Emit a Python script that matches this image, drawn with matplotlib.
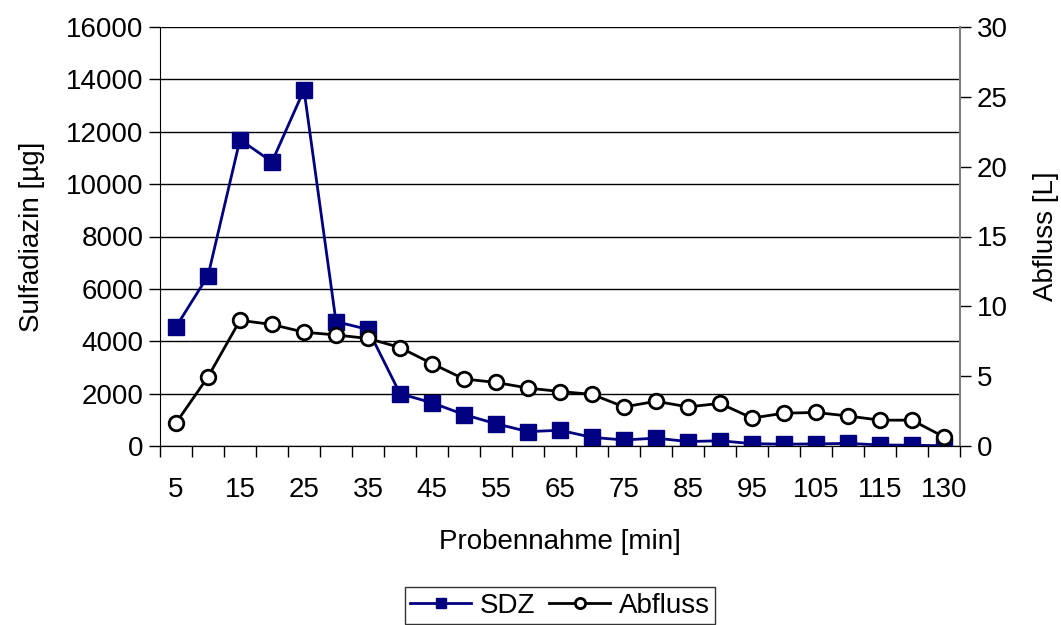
import numpy as np
import matplotlib.pyplot as plt

plt.rcParams['font.family'] = ['Liberation Sans', 'DejaVu Sans']

# Probennahme-Zeitpunkte (min)
zeit = [5, 10, 15, 20, 25, 30, 35, 40, 45, 50, 55, 60, 65, 70, 75, 80,
        85, 90, 95, 100, 105, 110, 115, 120, 130]
# Sulfadiazin [µg]
sdz = [4550, 6500, 11700, 10850, 13600, 4750, 4450, 2000, 1650, 1200, 850, 550,
       600, 330, 230, 300, 170, 200, 90, 70, 80, 100, 40, 30, 10]
# Abfluss [L]
abfluss = [1.65, 4.95, 9.0, 8.7, 8.15, 7.95, 7.7, 7.05, 5.9, 4.8, 4.55, 4.15,
           3.9, 3.7, 2.8, 3.2, 2.8, 3.05, 2.0, 2.35, 2.4, 2.15, 1.85, 1.85, 0.65]

x = np.arange(len(zeit))
navy = '#000080'
fs = 20

fig = plt.figure(figsize=(10.61, 6.25), dpi=100)
ax = fig.add_axes([160/1061, 1-446/625, 800/1061, 419/625])
ax2 = ax.twinx()

l1, = ax.plot(x, sdz, '-s', color=navy, lw=2, ms=11, mfc=navy, mec=navy,
              label='SDZ', zorder=3)
l2, = ax2.plot(x, abfluss, '-o', color='black', lw=2, ms=10.5, mfc='white',
               mec='black', mew=2, label='Abfluss', zorder=3)

ax.set_xlim(-0.5, len(zeit) - 0.5)
ax.set_ylim(0, 16000)
ax.set_yticks(np.arange(0, 16001, 2000))
ax2.set_ylim(0, 30)
ax2.set_yticks(np.arange(0, 31, 5))

# Kategorie-Beschriftung: jede zweite
ax.set_xticks(x[::2])
ax.set_xticklabels([str(z) for z in zeit[::2]])
ax.set_xticks(np.arange(-0.5, len(zeit)), minor=True)
ax.tick_params(axis='x', which='major', length=0, pad=22, labelsize=fs)
ax.tick_params(axis='x', which='minor', length=8, width=1, direction='out')
ax.tick_params(axis='y', length=8, width=1, direction='out', labelsize=fs, pad=4)
ax2.tick_params(axis='y', length=8, width=1, direction='out', labelsize=fs, pad=4)

ax.grid(axis='y', color='black', lw=1)
ax.set_axisbelow(True)
for a in (ax, ax2):
    a.spines['top'].set_visible(False)
ax.spines['right'].set_visible(False)
ax2.spines['left'].set_visible(False)
ax2.spines['right'].set_color('#808080')
ax2.spines['right'].set_linewidth(1.5)

ax.set_xlabel('Probennahme [min]', fontsize=fs, labelpad=19)
ax.set_ylabel('Sulfadiazin [µg]', fontsize=fs, labelpad=15)
ax2.set_ylabel('Abfluss [L]', fontsize=fs, labelpad=18)

leg = ax.legend([l1, l2], ['SDZ', 'Abfluss'], loc='upper center',
                bbox_to_anchor=(0.5, -0.337), ncol=2, fontsize=fs,
                frameon=True, fancybox=False, edgecolor='black',
                handlelength=2.2, columnspacing=0.5, handletextpad=0.3,
                borderpad=0.2, borderaxespad=0, markerscale=0.7)
leg.get_frame().set_linewidth(1)

fig.savefig('out.png', dpi=100)
